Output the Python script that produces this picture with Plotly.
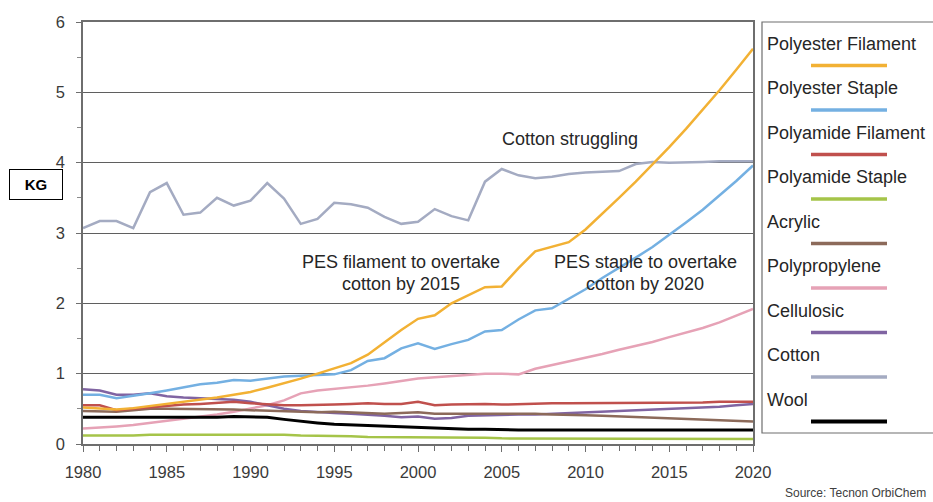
import plotly.graph_objects as go

years = list(range(1980, 2021))

series_names = ["Polyester Filament", "Polyester Staple", "Polyamide Filament", "Polyamide Staple",
                "Acrylic", "Polypropylene", "Cellulosic", "Cotton", "Wool"]
series_colors = ["#f2b134", "#74b0e2", "#c0504d", "#a5c449", "#8c6a5a",
                 "#e6a2b6", "#8064a2", "#a4abc2", "#000000"]

polyester_filament = [0.52, 0.51, 0.49, 0.51, 0.54, 0.56, 0.59, 0.62, 0.66, 0.70,
                      0.74, 0.80, 0.86, 0.93, 1.00, 1.08, 1.15, 1.27, 1.45, 1.62,
                      1.78, 1.83, 2.00, 2.12, 2.23, 2.24, 2.50, 2.74, 2.80, 2.87,
                      3.05, 3.27, 3.50, 3.73, 3.97, 4.22, 4.48, 4.75, 5.03, 5.32, 5.62]
polyester_staple = [0.70, 0.70, 0.65, 0.68, 0.72, 0.76, 0.80, 0.85, 0.87, 0.91,
                    0.90, 0.93, 0.96, 0.97, 0.98, 0.99, 1.05, 1.18, 1.22, 1.36,
                    1.43, 1.35, 1.42, 1.48, 1.60, 1.62, 1.77, 1.90, 1.93, 2.07,
                    2.20, 2.36, 2.50, 2.65, 2.80, 2.97, 3.15, 3.33, 3.53, 3.74, 3.96]
polyamide_filament = [0.55, 0.55, 0.48, 0.50, 0.53, 0.55, 0.56, 0.57, 0.58, 0.60,
                      0.58, 0.56, 0.55, 0.55, 0.55, 0.56, 0.57, 0.58, 0.57, 0.57,
                      0.60, 0.55, 0.56, 0.57, 0.57, 0.56, 0.57, 0.58, 0.58, 0.58,
                      0.58, 0.59, 0.59, 0.59, 0.59, 0.59, 0.59, 0.59, 0.60, 0.60, 0.60]
polyamide_staple = [0.12, 0.12, 0.11, 0.12, 0.13, 0.13, 0.14, 0.14, 0.14, 0.14,
                    0.14, 0.13, 0.13, 0.12, 0.12, 0.11, 0.11, 0.10, 0.10, 0.09,
                    0.09, 0.09, 0.09, 0.09, 0.09, 0.08, 0.08, 0.08, 0.07, 0.07,
                    0.07, 0.07, 0.07, 0.07, 0.07, 0.07, 0.07, 0.07, 0.07, 0.07, 0.07]
acrylic = [0.47, 0.47, 0.46, 0.48, 0.50, 0.50, 0.50, 0.50, 0.50, 0.49,
           0.48, 0.47, 0.46, 0.45, 0.45, 0.46, 0.45, 0.44, 0.43, 0.44,
           0.45, 0.43, 0.43, 0.44, 0.44, 0.44, 0.43, 0.43, 0.42, 0.42,
           0.41, 0.40, 0.39, 0.38, 0.37, 0.36, 0.35, 0.34, 0.33, 0.33, 0.32]
polypropylene = [0.22, 0.23, 0.25, 0.27, 0.30, 0.32, 0.35, 0.38, 0.42, 0.46,
                 0.50, 0.55, 0.62, 0.72, 0.76, 0.78, 0.80, 0.83, 0.86, 0.90,
                 0.93, 0.95, 0.97, 0.99, 1.00, 1.00, 0.99, 1.07, 1.12, 1.17,
                 1.22, 1.28, 1.34, 1.39, 1.45, 1.52, 1.58, 1.65, 1.73, 1.82, 1.92]
cellulosic = [0.78, 0.76, 0.70, 0.70, 0.72, 0.68, 0.66, 0.65, 0.65, 0.63,
              0.60, 0.55, 0.50, 0.47, 0.45, 0.44, 0.43, 0.42, 0.40, 0.38,
              0.39, 0.36, 0.37, 0.40, 0.41, 0.42, 0.42, 0.42, 0.43, 0.43,
              0.44, 0.45, 0.46, 0.47, 0.48, 0.50, 0.51, 0.52, 0.53, 0.55, 0.57]
cotton = [3.07, 3.17, 3.17, 3.07, 3.58, 3.71, 3.26, 3.29, 3.50, 3.39,
          3.46, 3.71, 3.49, 3.13, 3.20, 3.43, 3.41, 3.36, 3.23, 3.13,
          3.16, 3.34, 3.24, 3.18, 3.73, 3.91, 3.82, 3.78, 3.80, 3.84,
          3.86, 3.87, 3.88, 3.98, 4.01, 4.00, 4.00, 4.01, 4.02, 4.02, 4.02]
wool = [0.38, 0.38, 0.37, 0.37, 0.37, 0.37, 0.37, 0.38, 0.38, 0.39,
        0.39, 0.38, 0.35, 0.32, 0.30, 0.28, 0.27, 0.26, 0.25, 0.24,
        0.23, 0.22, 0.22, 0.21, 0.21, 0.20, 0.20, 0.20, 0.20, 0.20,
        0.20, 0.20, 0.20, 0.20, 0.20, 0.20, 0.20, 0.20, 0.20, 0.20, 0.20]

series_values = [polyester_filament, polyester_staple, polyamide_filament, polyamide_staple,
                 acrylic, polypropylene, cellulosic, cotton, wool]

x_tick_vals = [1980, 1985, 1990, 1995, 2000, 2005, 2010, 2015, 2020]
y_tick_vals = [0, 1, 2, 3, 4, 5, 6]

annotation_texts = ["Cotton struggling", "PES filament to overtake", "cotton by 2015",
                    "PES staple to overtake", "cotton by 2020"]
unit_label = "KG"
source_text = "Source: Tecnon OrbiChem"

W, H = 933, 502
ML, MR, MT, MB = 83, 180, 22, 58
PW, PH = W - ML - MR, H - MT - MB


def px(xp):
    return (xp - ML) / PW


def py(yp):
    return (H - MB - yp) / PH


FONT = "Liberation Sans, Arial, sans-serif"

fig = go.Figure()
draw_order = [7, 5, 6, 4, 2, 3, 8, 1, 0]
for i in draw_order:
    fig.add_trace(go.Scatter(
        x=years, y=series_values[i], mode="lines", name=series_names[i],
        line=dict(color=series_colors[i], width=3 if series_names[i] == "Wool" else 2.5),
        showlegend=False, hoverinfo="x+y+name"))

shapes = []
annotations = []

# custom legend (text above line sample)
shapes.append(dict(type="rect", xref="paper", yref="paper", x0=px(762), x1=px(945),
                   y0=py(433), y1=py(22), line=dict(color="#6e6e6e", width=1.2),
                   fillcolor="rgba(0,0,0,0)", layer="above"))
for k, (name, color) in enumerate(zip(series_names, series_colors)):
    ty = 43.5 + 44.5 * k
    ly = 65.5 + 44.5 * k
    annotations.append(dict(xref="paper", yref="paper", x=px(765), y=py(ty), text=name,
                            showarrow=False, xanchor="left", yanchor="middle",
                            font=dict(family=FONT, size=18, color="#262626")))
    shapes.append(dict(type="line", xref="paper", yref="paper", x0=px(811), x1=px(887),
                       y0=py(ly), y1=py(ly),
                       line=dict(color=color, width=4 if name == "Wool" else 3.5)))

# text annotations
ann_pos = [(570, 139), (401, 262), (401, 284), (645, 262), (645, 284)]
for t, (ax, ay) in zip(annotation_texts, ann_pos):
    annotations.append(dict(xref="paper", yref="paper", x=px(ax), y=py(ay), text=t,
                            showarrow=False, xanchor="center", yanchor="middle",
                            font=dict(family=FONT, size=18, color="#262626")))

annotations.append(dict(xref="paper", yref="paper", x=px(36), y=py(184), text="<b>" + unit_label + "</b>",
                        showarrow=False, xanchor="center", yanchor="middle",
                        width=50, height=27, bordercolor="#000000", borderwidth=1,
                        bgcolor="#ffffff", font=dict(family=FONT, size=15, color="#000000")))

annotations.append(dict(xref="paper", yref="paper", x=px(783), y=py(493), text=source_text,
                        showarrow=False, xanchor="left", yanchor="middle",
                        font=dict(family=FONT, size=12, color="#404040")))

fig.update_layout(
    width=W, height=H,
    margin=dict(l=ML, r=MR, t=MT, b=MB, pad=0),
    paper_bgcolor="#ffffff", plot_bgcolor="#ffffff",
    shapes=shapes, annotations=annotations,
    showlegend=False,
    xaxis=dict(range=[1980, 2020], tickvals=x_tick_vals, ticktext=[str(v) for v in x_tick_vals],
               showgrid=False, zeroline=False, showline=True, linecolor="#6e6e6e", linewidth=1.5,
               mirror=True, ticks="outside", ticklen=6, tickcolor="#6e6e6e", tickwidth=1,
               minor=dict(dtick=1, ticks="outside", ticklen=5, tickcolor="#6e6e6e", tickwidth=1),
               ticklabelstandoff=6,
               tickfont=dict(family=FONT, size=16.5, color="#3a3a3a")),
    yaxis=dict(range=[0, 6], tickvals=y_tick_vals, ticktext=[str(v) for v in y_tick_vals],
               showgrid=True, gridcolor="#5f5f5f", gridwidth=1, zeroline=False,
               showline=True, linecolor="#6e6e6e", linewidth=1.5, mirror=True,
               ticks="outside", ticklen=5, tickcolor="#6e6e6e", tickwidth=1,
               minor=dict(dtick=0.5, ticks="outside", ticklen=4, tickcolor="#8a8a8a", tickwidth=1),
               ticklabelstandoff=8,
               tickfont=dict(family=FONT, size=16.5, color="#3a3a3a")),
)

fig.write_html("out.html")
